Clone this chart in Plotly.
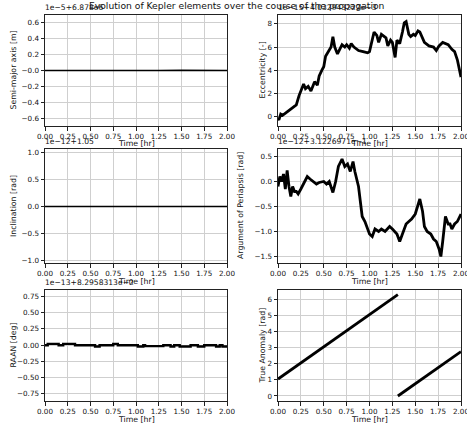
import plotly.graph_objects as go

W, H = 467, 427

# ---------------- data ----------------
sma_t = [0.0, 0.25, 0.5, 0.6, 0.75, 0.9, 1.0, 1.25, 1.5, 1.75, 2.0]
sma_v = [0.0, 0.0, -0.002, -0.006, -0.009, -0.006, -0.002, 0.0, 0.002, -0.002, 0.0]

ecc_t = [0.0, 0.01, 0.03, 0.05, 0.1, 0.15, 0.2, 0.23, 0.25, 0.28, 0.3, 0.33, 0.36, 0.4, 0.43, 0.45,
         0.48, 0.5, 0.52, 0.55, 0.58, 0.6, 0.62, 0.65, 0.68, 0.7, 0.73, 0.75, 0.78, 0.8, 0.83, 0.88,
         0.93, 0.98, 1.0, 1.03, 1.05, 1.08, 1.1, 1.13, 1.15, 1.18, 1.2, 1.23, 1.25, 1.28, 1.3, 1.33,
         1.36, 1.38, 1.4, 1.43, 1.45, 1.48, 1.5, 1.53, 1.55, 1.58, 1.6, 1.65, 1.7, 1.73, 1.76, 1.8,
         1.83, 1.86, 1.9, 1.93, 1.96, 1.98, 2.0]
ecc_v = [-0.2, -0.3, 0.2, 0.1, 0.4, 0.7, 1.0, 1.8, 2.2, 2.8, 2.4, 2.6, 2.2, 3.0, 2.7, 3.5,
         4.0, 4.3, 5.2, 5.6, 6.0, 6.9, 6.0, 5.4, 5.9, 6.2, 6.0, 6.2, 5.9, 6.3, 6.0, 5.7,
         5.6, 5.5, 5.6, 6.5, 7.3, 7.0, 6.4, 7.1, 7.0, 6.8, 6.1, 6.6, 6.4, 5.1, 6.6, 6.3,
         7.3, 8.1, 8.2, 7.1, 6.9, 7.1, 7.0, 7.4, 7.3, 6.8, 6.4, 6.1, 6.0, 5.7, 6.1, 6.4,
         6.3, 6.2, 5.8, 5.6, 4.9, 4.0, 3.4]

inc_t = [0.0, 2.0]
inc_v = [0.0, 0.0]

aop_t = [0.0, 0.02, 0.04, 0.06, 0.08, 0.1, 0.12, 0.14, 0.16, 0.18, 0.2, 0.22, 0.25, 0.28, 0.32,
         0.35, 0.38, 0.42, 0.45, 0.5, 0.53, 0.56, 0.6, 0.63, 0.66, 0.7, 0.73, 0.76, 0.79, 0.82,
         0.84, 0.88, 0.9, 0.92, 0.95, 0.98, 1.0, 1.03, 1.06, 1.1, 1.13, 1.17, 1.22, 1.25, 1.3,
         1.33, 1.36, 1.4, 1.43, 1.46, 1.5, 1.53, 1.55, 1.58, 1.6, 1.63, 1.67, 1.7, 1.73, 1.76,
         1.78, 1.8, 1.83, 1.86, 1.88, 1.9, 1.93, 1.96, 2.0]
aop_v = [-0.1, 0.1, 0.0, 0.15, -0.15, 0.22, -0.1, -0.3, -0.1, -0.2, -0.2, -0.25, -0.15, -0.05, 0.1,
         0.05, 0.0, -0.05, -0.02, 0.0, -0.05, 0.0, -0.22, 0.0, 0.3, 0.45, 0.3, 0.35, 0.2, 0.4,
         0.2, -0.1, -0.4, -0.7, -0.8, -0.95, -1.05, -1.1, -0.95, -1.0, -0.95, -1.0, -0.9, -0.95, -1.05,
         -1.2, -1.05, -0.85, -0.8, -0.75, -0.65, -0.45, -0.35, -0.6, -0.9, -1.0, -1.05, -1.15, -1.2, -1.35,
         -1.5, -1.2, -0.7, -0.85, -0.85, -0.95, -0.85, -0.8, -0.65]

raan_t = [0.0, 0.03, 0.15, 0.2, 0.33, 0.55, 0.6, 0.75, 0.8, 1.02, 1.08, 1.1, 1.3, 1.38, 1.42,
          1.48, 1.6, 1.68, 1.75, 1.88, 1.92, 1.95, 2.0]
raan_v = [0.0, 0.02, 0.0, 0.02, 0.0, -0.02, 0.0, 0.02, 0.0, -0.02, 0.0, -0.015, 0.0, -0.02, 0.0,
          -0.02, 0.0, -0.02, 0.0, -0.02, 0.0, -0.02, -0.02]

ta1_t = [0.0, 1.31]
ta1_v = [1.05, 6.28]
ta2_t = [1.31, 2.0]
ta2_v = [0.0, 2.75]

x_ticks = [0, 0.25, 0.5, 0.75, 1.0, 1.25, 1.5, 1.75, 2.0]
x_ticktext = ["0.00", "0.25", "0.50", "0.75", "1.00", "1.25", "1.50", "1.75", "2.00"]

title = "Evolution of Kepler elements over the course of the propagation"
ylabels = ["Semi-major axis [m]", "Eccentricity [-]", "Inclination [rad]",
           "Argument of Periapsis [rad]", "RAAN [deg]", "True Anomaly [rad]"]
offsets = ["1e\u22125+6.878e6", "1e\u221215+4.032943222e\u22123", "1e\u221212+1.05",
           "1e\u221212+3.1226971e\u22121", "1e\u221213+8.2958313e\u22122", ""]

# ---------------- layout geometry (pixels) ----------------
cols = [(45, 227), (278, 461)]
rows = [(15, 126), (149, 263), (290, 401)]

FONT = "DejaVu Sans"
TICK = 7.2
LAB = 7.8
fig = go.Figure()

panels = [
    dict(series=[(sma_t, sma_v, 1.6)], yr=[-0.69, 0.69],
         tv=[-0.6, -0.4, -0.2, 0.0, 0.2, 0.4, 0.6],
         tt=["\u22120.6", "\u22120.4", "\u22120.2", "\u22120.0", "0.2", "0.4", "0.6"]),
    dict(series=[(ecc_t, ecc_v, 2.8)], yr=[-0.83, 8.77],
         tv=[0, 2, 4, 6, 8], tt=["0", "2", "4", "6", "8"]),
    dict(series=[(inc_t, inc_v, 1.6)], yr=[-1.05, 1.07],
         tv=[-1.0, -0.5, 0.0, 0.5, 1.0], tt=["\u22121.0", "\u22120.5", "0.0", "0.5", "1.0"]),
    dict(series=[(aop_t, aop_v, 2.8)], yr=[-1.63, 0.65],
         tv=[-1.5, -1.0, -0.5, 0.0, 0.5], tt=["\u22121.5", "\u22121.0", "\u22120.5", "0.0", "0.5"]),
    dict(series=[(raan_t, raan_v, 2.4)], yr=[-0.86, 0.85],
         tv=[-0.75, -0.5, -0.25, 0.0, 0.25, 0.5, 0.75],
         tt=["\u22120.75", "\u22120.50", "\u22120.25", "0.00", "0.25", "0.50", "0.75"], shape="hv"),
    dict(series=[(ta1_t, ta1_v, 2.8), (ta2_t, ta2_v, 2.8)], yr=[-0.31, 6.56],
         tv=[0, 1, 2, 3, 4, 5, 6], tt=["0", "1", "2", "3", "4", "5", "6"]),
]

annotations = []
for i, p in enumerate(panels):
    r, c = divmod(i, 2)
    x0, x1 = cols[c]
    y0, y1 = rows[r]
    xa = "xaxis" if i == 0 else "xaxis%d" % (i + 1)
    ya = "yaxis" if i == 0 else "yaxis%d" % (i + 1)
    xref = "x" if i == 0 else "x%d" % (i + 1)
    yref = "y" if i == 0 else "y%d" % (i + 1)
    for (tx, vy, lw) in p["series"]:
        fig.add_trace(go.Scatter(x=tx, y=vy, mode="lines", xaxis=xref, yaxis=yref,
                                 line=dict(color="black", width=lw, shape=p.get("shape", "linear")),
                                 showlegend=False, hoverinfo="skip"))
    common = dict(showline=True, mirror=True, linecolor="#222222", linewidth=1,
                  ticks="outside", ticklen=3.5, tickwidth=0.8, tickcolor="#222222",
                  showgrid=True, gridcolor="#cfcfcf", gridwidth=0.8, zeroline=False,
                  automargin=False, ticklabeloverflow="allow",
                  tickfont=dict(family=FONT, size=TICK, color="#111111"))
    fig.layout[xa] = dict(domain=[x0 / W, x1 / W], anchor=yref, range=[0, 2],
                          tickvals=x_ticks, ticktext=x_ticktext, **common)
    fig.layout[ya] = dict(domain=[1 - y1 / H, 1 - y0 / H], anchor=xref, range=p["yr"],
                          tickvals=p["tv"], ticktext=p["tt"], **common)
    # y label
    lx = 13 if c == 0 else (262 if i != 3 else 240)
    annotations.append(dict(text=ylabels[i], x=lx / W, y=1 - (y0 + y1) / 2 / H, xref="paper", yref="paper",
                            textangle=-90, showarrow=False, xanchor="center", yanchor="middle",
                            font=dict(family=FONT, size=LAB, color="#111111")))
    # x label
    annotations.append(dict(text="Time [hr]", x=(x0 + x1) / 2 / W, y=1 - (y1 + 18) / H, xref="paper", yref="paper",
                            showarrow=False, xanchor="center", yanchor="middle",
                            font=dict(family=FONT, size=LAB, color="#111111")))
    if offsets[i]:
        annotations.append(dict(text=offsets[i], x=(x0 - 2) / W, y=1 - (y0 - 1) / H, xref="paper", yref="paper",
                                showarrow=False, xanchor="left", yanchor="bottom",
                                font=dict(family=FONT, size=7.6, color="#111111")))

annotations.append(dict(text=title, x=237 / W, y=1 - 5 / H, xref="paper", yref="paper",
                        showarrow=False, xanchor="center", yanchor="middle",
                        font=dict(family=FONT, size=9.2, color="#111111")))

fig.update_layout(width=W, height=H, margin=dict(l=0, r=0, t=0, b=0),
                  paper_bgcolor="white", plot_bgcolor="white", annotations=annotations,
                  font=dict(family=FONT))
fig.write_html("out.html", config={"displayModeBar": False},
               post_script="document.body.style.margin='0px';document.body.style.overflow='hidden';")
